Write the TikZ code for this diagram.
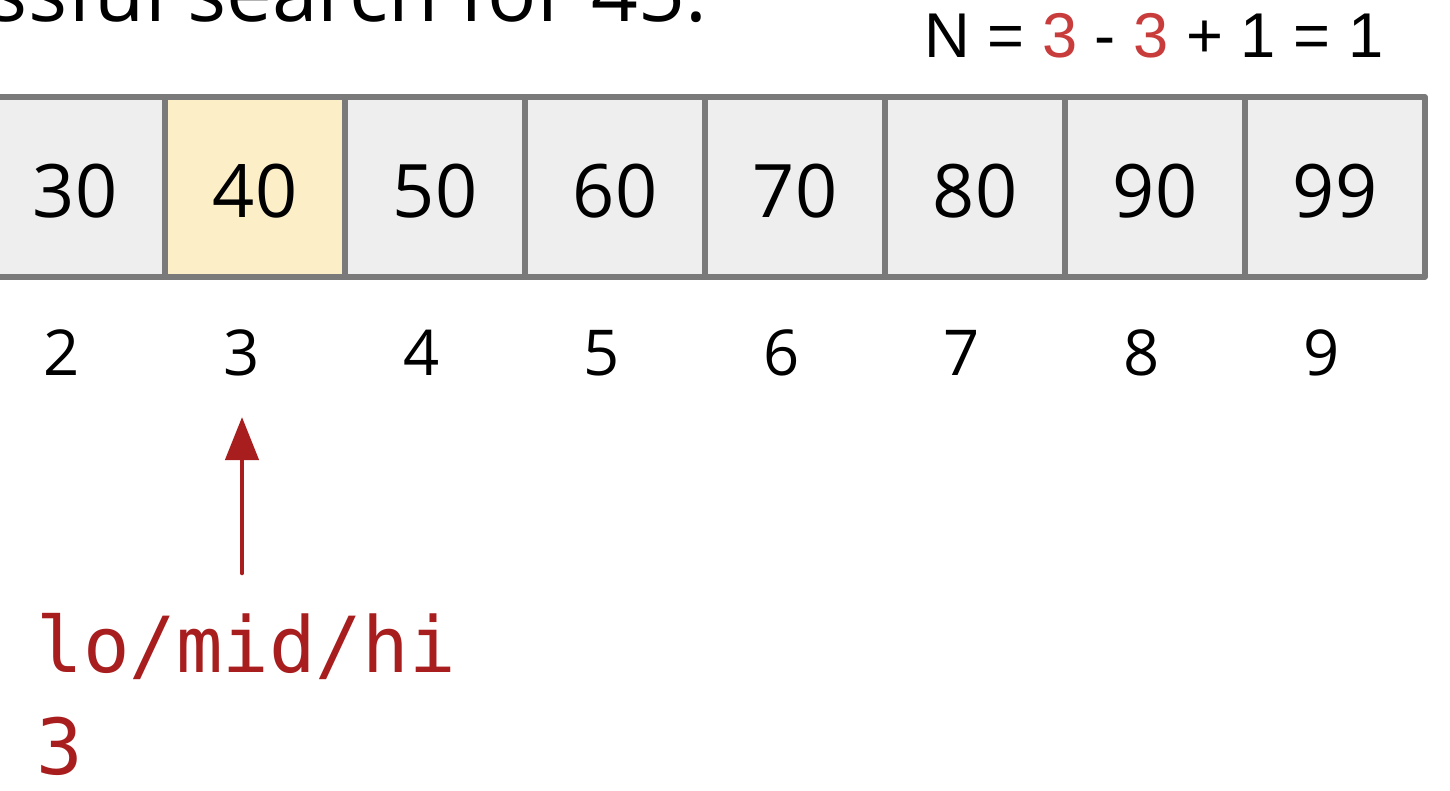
\documentclass[tikz,border=0pt]{standalone}
\usepackage{fontspec}
\setmainfont{Open Sans}
\setmonofont{DejaVu Sans Mono}
\newfontfamily\formulafont{Liberation Sans}
\usetikzlibrary{positioning,arrows.meta}
\definecolor{cellgray}{HTML}{EEEEEE}
\definecolor{cellyellow}{HTML}{FCEFC8}
\definecolor{edgegray}{HTML}{7A7A7A}
\definecolor{ptrred}{HTML}{A81E1E}
\definecolor{numred}{HTML}{C83C3C}
\tikzset{
	cell/.style={draw=edgegray, line width=1.5pt, minimum width=1.8cm, minimum height=1.8cm, inner sep=0pt, text height=6.1mm, text depth=0pt, font=\fontsize{21}{25}\selectfont},
	idx/.style={anchor=base, inner sep=0pt, font=\fontsize{18}{22}\selectfont}
}
\begin{document}
\begin{tikzpicture}[line join=round, line cap=round, >={Triangle[length=4.3mm, width=3.3mm]}]
	\useasboundingbox (0,0) rectangle (14.5,-7.9);
	\clip (0,0) rectangle (14.5,-7.9);
	
	\node[anchor=base east, inner sep=0pt, font=\fontsize{23.3}{27}\selectfont] (title) at (7.08,-0.21) {Unsuccessful search for 45:};
	\node[anchor=base east, inner sep=0pt, font=\formulafont\fontsize{18}{22}\selectfont] (count) at (13.84,-0.57) {N = \textcolor{numred}{3} - \textcolor{numred}{3} + 1 = 1};
	
	\foreach \v/\i/\c [count=\k from 0] in {30/2/cellgray, 40/3/cellyellow, 50/4/cellgray, 60/5/cellgray, 70/6/cellgray, 80/7/cellgray, 90/8/cellgray, 99/9/cellgray}
	{
		\node[cell, fill=\c] (c\i) at (0.75+1.8*\k,-1.87) {\v};
		\node[idx] (i\i) at (0.62+1.8*\k,-3.75) {\i};
	}
	
	\node[anchor=north west, inner sep=0pt, align=left, text=ptrred, font=\ttfamily\fontsize{22}{29}\selectfont] (ptr) at (0.36,-6.13) {lo/mid/hi\\3};
	\draw[->, ptrred, line width=1.3pt] ([yshift=4mm]ptr.north -| i3) -- ([yshift=-4.2mm]i3.base);
\end{tikzpicture}
\end{document}
